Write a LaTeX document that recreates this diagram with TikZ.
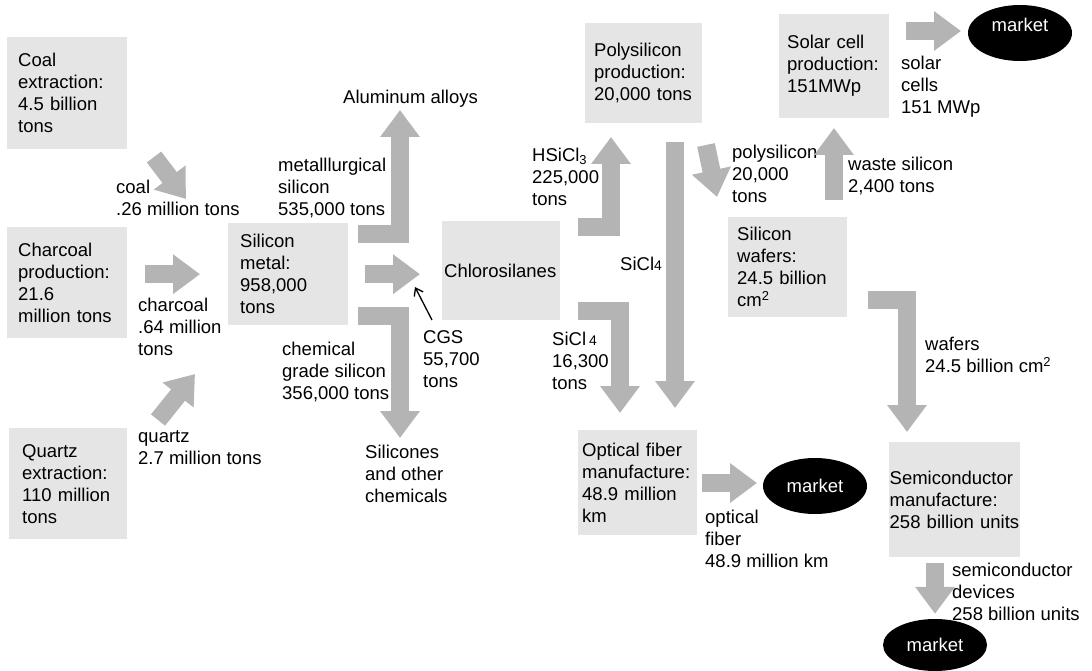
\documentclass[tikz,border=0pt]{standalone}
\usepackage{fontspec}
\setmainfont{Liberation Sans}
\usetikzlibrary{arrows.meta,shapes.geometric,positioning}

\definecolor{boxgray}{RGB}{229,229,229}
\definecolor{flowgray}{RGB}{180,180,180}

\tikzset{
	box/.style={fill=boxgray, anchor=north west, align=left, inner ysep=0pt},
	lbl/.style={anchor=north west, align=left, inner sep=0pt},
	flow/.style={draw=flowgray, line width=18pt, line join=miter,
		-{Triangle[length=27pt 0 0, width=38pt 0 0]}},
	market/.style={ellipse, fill=black, text=white, inner sep=0pt,
		minimum width=104pt, minimum height=56pt}
}
\newcommand{\smallfour}{{\fontsize{14}{14}\selectfont 4}}

\begin{document}
\begin{tikzpicture}[x=1pt, y=-1pt, font=\fontsize{18.5}{22}\selectfont]
	\useasboundingbox (0,0) rectangle (1092,671);

	% process boxes
	\node[box, inner xsep=11pt, text width=98pt, minimum height=112pt] (coal) at (7,37)
		{Coal\\extraction:\\4.5 billion\\tons};
	\node[box, inner xsep=11pt, text width=98pt, minimum height=111pt] (charc) at (7,227)
		{Charcoal\\production:\\21.6\\million tons};
	\node[box, inner xsep=13pt, text width=92pt, minimum height=111pt] (quartz) at (9,428)
		{Quartz\\extraction:\\110 million\\tons};
	\node[box, inner xsep=12pt, text width=96pt, minimum height=102pt] (simetal) at (228,223)
		{Silicon\\metal:\\958,000\\tons};
	\node[box, inner xsep=2pt, text width=114pt, minimum height=99pt] (chloro) at (442,221)
		{Chlorosilanes};
	\node[box, inner xsep=9pt, text width=99pt, minimum height=100pt] (poly) at (585,23)
		{Polysilicon\\production:\\20,000 tons};
	\node[box, inner xsep=8pt, text width=94pt, minimum height=104pt] (solar) at (779,14)
		{Solar cell\\production:\\151MWp};
	\node[box, inner xsep=9pt, text width=101pt, minimum height=100pt] (wafer) at (728,217)
		{Silicon\\wafers:\\24.5 billion\\cm\textsuperscript{2}};
	\node[box, inner xsep=4pt, text width=111pt, minimum height=105pt] (fiber) at (578,430)
		{Optical fiber\\manufacture:\\48.9 million\\km};
	\node[box, inner xsep=0.5pt, text width=130pt, minimum height=115pt] (semi) at (889,442)
		{Semiconductor\\manufacture:\\258 billion units};

	% markets
	\node[market, text height=13pt, text depth=16pt] (mtop) at (1020,33) {market};
	\node[market] (mmid) at (815,486) {market};
	\node[market, minimum height=52pt] (mbot) at (935,645) {market};

	% flow labels
	\node[lbl] (alu) at (343,90) {Aluminum alloys};
	\node[lbl] (metsi) at (278,158) {metalllurgical\\silicon\\535,000 tons};
	\node[lbl] (coalfl) at (116,180) {coal\\.26 million tons};
	\node[lbl] (charfl) at (138,298) {charcoal\\.64 million\\tons};
	\node[lbl] (quartzfl) at (138,430) {quartz\\2.7 million tons};
	\node[lbl] (chemsi) at (282,342) {chemical\\grade silicon\\356,000 tons};
	\node[lbl] (cgs) at (423,330) {CGS\\55,700\\tons};
	\node[lbl] (silicones) at (365,445) {Silicones\\and other\\chemicals};
	\node[lbl] (hsicl) at (532,148) {HSiCl\textsubscript{3}\\225,000\\tons};
	\node[lbl] (sicl) at (620,257) {SiCl\smallfour};
	\node[lbl] (siclb) at (552,332) {SiCl\,\smallfour\\16,300\\tons};
	\node[lbl] (polyfl) at (732,145) {polysilicon\\20,000\\tons};
	\node[lbl] (waste) at (848,157) {waste silicon\\2,400 tons};
	\node[lbl] (solarfl) at (901,56) {solar\\cells\\151 MWp};
	\node[lbl] (waferfl) at (925,337) {wafers\\24.5 billion cm\textsuperscript{2}};
	\node[lbl] (fiberfl) at (705,510) {optical\\fiber\\48.9 million km};
	\node[lbl] (semifl) at (952,563) {semiconductor\\devices\\258 billion units};

	% flow ends
	\coordinate (coalA) at (154,157);   \coordinate (coalB) at (186,199);
	\coordinate (quartzA) at (158,420); \coordinate (quartzB) at (195,374);
	\coordinate (aluA) at (358,234);    \coordinate (aluB) at (400,110);
	\coordinate (silA) at (358,316);    \coordinate (silB) at (400,438);
	\coordinate (hsiA) at (578,227);    \coordinate (hsiB) at (611,137);
	\coordinate (sicA) at (675,142);    \coordinate (sicB) at (675,408);
	\coordinate (sicC) at (578,311);    \coordinate (sicD) at (620,413);
	\coordinate (polyA) at (706,145);   \coordinate (polyB) at (717,197);
	\coordinate (wasteA) at (834,200);  \coordinate (wasteB) at (834,128);
	\coordinate (solarA) at (906,31);   \coordinate (solarB) at (961,31);
	\coordinate (waferA) at (868,300);  \coordinate (waferB) at (907,432);
	\coordinate (fiberA) at (702,483);  \coordinate (fiberB) at (757,483);
	\coordinate (cgsTip) at (415,287);

	% flows
	\draw[flow] (coalA) -- (coalB);
	\draw[flow] ([xshift=18pt]charc.east |- simetal.center) -- ([xshift=-28pt]simetal.west);
	\draw[flow] (quartzA) -- (quartzB);
	\draw[flow] (aluA) -| (aluB);
	\draw[flow] ([xshift=17pt]simetal.east) -- ([xshift=-22pt]chloro.west |- simetal.center);
	\draw[flow] (silA) -| (silB);
	\draw[flow] (hsiA) -| (hsiB);
	\draw[flow] (sicA) -- (sicB);
	\draw[flow] (sicC) -| (sicD);
	\draw[flow] (polyA) -- (polyB);
	\draw[flow] (wasteA) -- (wasteB);
	\draw[flow] (solarA) -- (solarB);
	\draw[flow] (waferA) -| (waferB);
	\draw[flow] (fiberA) -- (fiberB);
	\draw[flow] ([yshift=-6pt]semi.south -| mbot) -- ([yshift=5pt]mbot.north);

	% CGS pointer
	\draw[line width=1.3pt, -{Straight Barb[length=7pt, width=10pt]}]
		([xshift=9pt, yshift=10pt]cgs.north west) -- (cgsTip);
\end{tikzpicture}
\end{document}
